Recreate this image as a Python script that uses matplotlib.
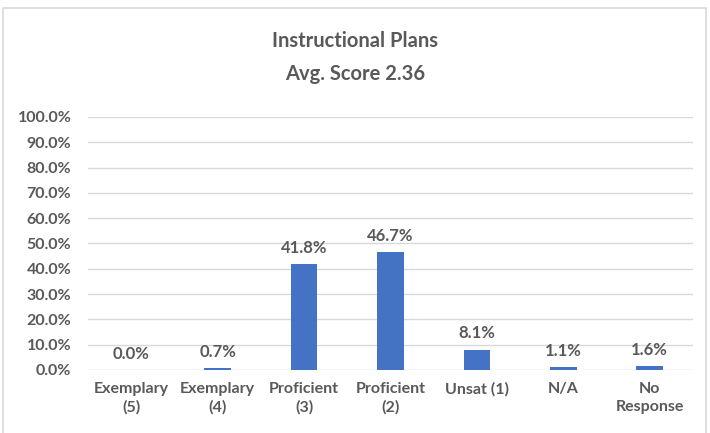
import matplotlib.pyplot as plt
import matplotlib.patches as mpatches
from matplotlib.ticker import FuncFormatter, MultipleLocator

# data
categories = ['Exemplary\n(5)', 'Exemplary\n(4)', 'Proficient\n(3)', 'Proficient\n(2)',
              'Unsat (1)', 'N/A', 'No\nResponse']
values = [0.0, 0.7, 41.8, 46.7, 8.1, 1.1, 1.6]

grey = '#595959'
bar_color = '#4472C4'

plt.rcParams['font.family'] = ['Lato', 'DejaVu Sans']

fig = plt.figure(figsize=(7.10, 4.33), dpi=100)
ax = fig.add_axes([0.124, 0.1455, 0.852, 0.5843])

# chart area border
fig.patches.append(mpatches.Rectangle((3 / 710, -0.01), 703 / 710, 1 - 8 / 433 + 0.01,
                                      transform=fig.transFigure, fill=False,
                                      edgecolor='#D9D9D9', linewidth=1.2))

x = range(len(categories))
bars = ax.bar(x, values, width=0.31, color=bar_color, zorder=3)

for xi, v in zip(x, values):
    ax.annotate('{0:.1f}%'.format(v), (xi, v), xytext=(0, 6), textcoords='offset points',
                ha='center', va='bottom', fontsize=12, fontweight='bold', color=grey)

ax.set_xlim(-0.5, len(categories) - 0.5)
ax.set_ylim(0, 100)
ax.yaxis.set_major_locator(MultipleLocator(10))
ax.yaxis.set_major_formatter(FuncFormatter(lambda v, p: '{0:.1f}%'.format(v)))
ax.set_xticks(list(x))
ax.set_xticklabels(categories, linespacing=1.35)

ax.grid(axis='y', color='#D9D9D9', linewidth=1, zorder=0)
for s in ax.spines.values():
    s.set_visible(False)
ax.tick_params(axis='both', length=0, labelsize=11.5, labelcolor=grey)
ax.tick_params(axis='x', pad=9)
ax.tick_params(axis='y', pad=12)
for lbl in ax.get_xticklabels() + ax.get_yticklabels():
    lbl.set_fontweight('bold')

fig.text(0.5, 0.867, 'Instructional Plans\nAvg. Score 2.36', ha='center', va='center',
         fontsize=14.5, fontweight='bold', color=grey, linespacing=1.8)

plt.savefig('out.png', dpi=100)
